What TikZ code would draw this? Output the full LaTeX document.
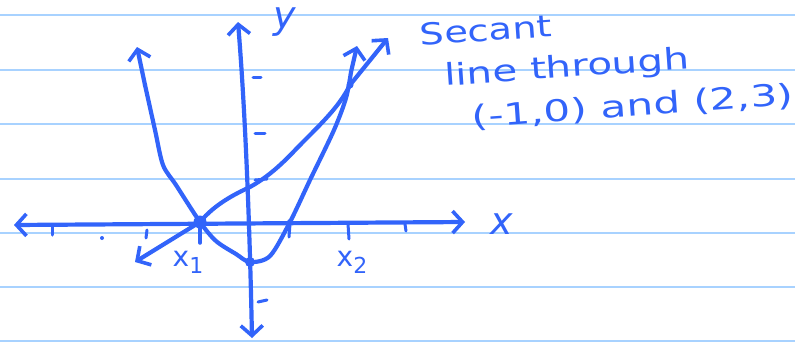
\documentclass[tikz,border=0pt]{standalone}
\usepackage{fontspec}
\usepackage{graphicx}
\setmainfont{DejaVu Sans}
\usetikzlibrary{arrows.meta}
\definecolor{ink}{RGB}{50,100,250}
\definecolor{rule}{RGB}{168,210,255}
\begin{document}
\begin{tikzpicture}[x=1pt,y=-1pt,
  pen/.style={draw=ink,line width=4.2pt,line cap=round,line join=round},
  barb/.tip={Straight Barb[length=10pt,width=22pt,line width=3.6pt]},
  tip/.style={-barb},
  both/.style={barb-barb},
  ruleline/.style={draw=rule,line width=2pt},
  hand/.style={text=ink,inner sep=0pt,font=\fontsize{30}{32}\selectfont},
  dotmark/.style={fill=ink,draw=none}]
\useasboundingbox (0,0) rectangle (795,346);
\fill[white] (0,0) rectangle (795,346);
% ruled paper
\foreach \yy in {15,70,124,179,233,287,341}
  \draw[ruleline] (0,\yy) -- (795,\yy);
% named points
\coordinate (xl) at (14,225);
\coordinate (xr) at (465,222);
\coordinate (yt) at (238,22);
\coordinate (yb) at (252,338);
\coordinate (P1) at (200,222);
\coordinate (V) at (250,262);
\coordinate (R) at (290,222);
\coordinate (P2) at (350,85);
% axes
\draw[pen,both] (xl) -- (xr);
\draw[pen,both] (yt) .. controls (246,120) and (250,240) .. (yb);
% x ticks
\draw[pen,line width=3pt] (52,225) -- (52,235);
\fill[ink] (102,238) circle (2pt);
\draw[pen,line width=3pt] (147,230) -- (146,238);
\draw[pen,line width=3.5pt] (200,224) -- (200,243);
\draw[pen,line width=3pt] (290,224) -- (289,237);
\draw[pen,line width=3pt] (348,224) -- (349,239);
\draw[pen,line width=3pt] (405,224) -- (406,231);
% y ticks
\draw[pen,line width=3pt] (253,77) -- (261,77);
\draw[pen,line width=3pt] (255,133) -- (265,133);
\draw[pen,line width=3pt] (255,180) -- (267,179);
\draw[pen,line width=3pt] (258,302) -- (267,300);
% parabola
\draw[pen,tip] (145,85) -- (137,47);
\draw[pen,tip] plot[smooth,tension=0.5] coordinates {(145,85) (155,130) (163,165) (176,185) (200,222) (216,241) (236,254) (250,262) (270,256) (290,222) (310,180) (334,130) (346,98) (351,72)} -- (357,46);
% secant line
\draw[pen,both] (135,262) -- (P1) .. controls (215,204) and (235,194) .. (250,187) .. controls (275,173) and (290,155) .. (303,142) .. controls (325,120) and (340,105) .. (P2) -- (388,38);
% points
\fill[dotmark] (P1) circle (6.5pt);
\fill[dotmark] (V) circle (5pt);
\fill[dotmark] (R) circle (3pt);
\fill[dotmark] (P2) circle (3.5pt);
% labels
\node[hand,font=\fontsize{38}{40}\selectfont] (ylab) at (285,22) {\itshape y};
\node[hand,font=\fontsize{38}{40}\selectfont] (xlab) at (502,224) {\itshape x};
\node[hand,font=\fontsize{28}{30}\selectfont] (x1lab) at (188,262) {x\raisebox{-7pt}{\fontsize{22}{24}\selectfont 1}};
\node[hand,font=\fontsize{28}{30}\selectfont] (x2lab) at (352,262) {x\raisebox{-7pt}{\fontsize{22}{24}\selectfont 2}};
\node[hand,rotate=4] (t1) at (486,30) {\scalebox{1.28}[1]{Secant}};
\node[hand,rotate=4] (t2) at (567,69) {\scalebox{1.35}[1]{line through}};
\node[hand,rotate=4,anchor=west] (t3) at (472,118) {\scalebox{1.41}[1]{(-1,0) and (2,3)}};
\end{tikzpicture}
\end{document}
